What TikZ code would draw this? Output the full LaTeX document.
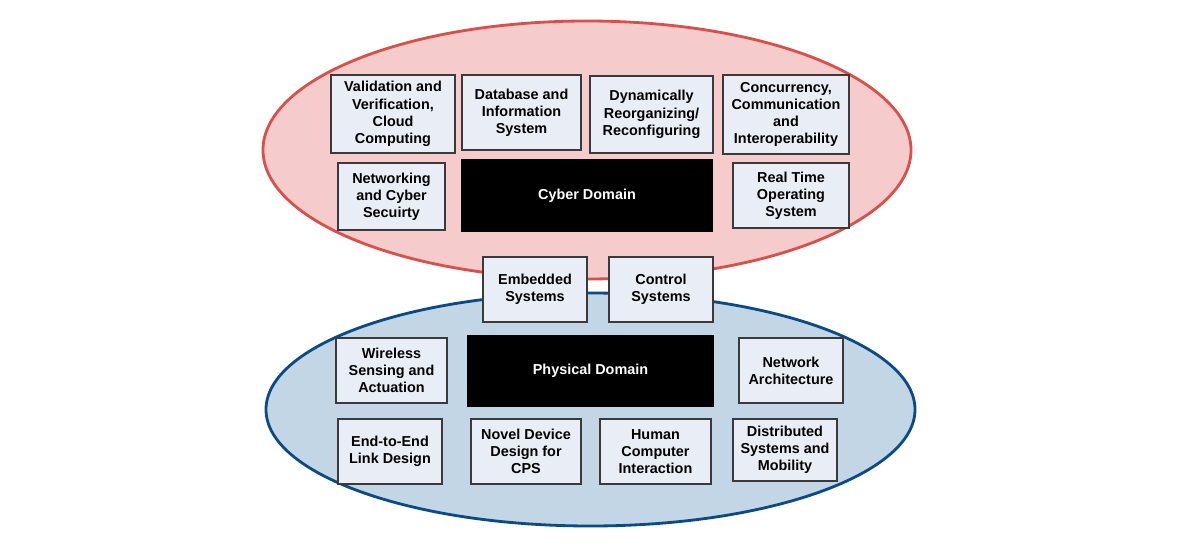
\documentclass[tikz,border=0pt]{standalone}
\usepackage{fontspec}
\setmainfont{Liberation Sans}
\usepackage{tikz}

\definecolor{cyberfill}{HTML}{F5CBCB}
\definecolor{cyberline}{HTML}{D9504A}
\definecolor{physfill}{HTML}{C3D6E5}
\definecolor{physline}{HTML}{0B4A84}
\definecolor{boxfill}{HTML}{E9EEF6}
\definecolor{boxline}{HTML}{3A3A3A}

\tikzset{
  topic/.style={draw=boxline,fill=boxfill,line width=0.7pt,align=center,
    font=\fontsize{8.2}{9.8}\selectfont\bfseries,inner sep=1pt},
  domainbox/.style={fill=black,text=white,align=center,
    font=\fontsize{8.2}{9.8}\selectfont\bfseries}
}

\begin{document}
\begin{tikzpicture}[x=0.02cm,y=-0.02cm]
      \useasboundingbox (0,0) rectangle (1180,544);
      % the two domains
      \draw[cyberline,fill=cyberfill,line width=1.6pt] (587,150) ellipse [x radius=324,y radius=129];
      \draw[physline,fill=physfill,line width=1.6pt] (590.5,409.5) ellipse [x radius=324.5,y radius=116.5];
      % cyber side
      \node[topic,minimum width=2.48cm,minimum height=1.56cm] (valid) at (393,114) {Validation and\\Verification,\\Cloud\\Computing};
      \node[topic,minimum width=2.38cm,minimum height=1.50cm] (dbase) at (521.5,112.5) {Database and\\Information\\System};
      \node[topic,minimum width=2.46cm,minimum height=1.54cm] (dynre) at (651.5,114.5) {Dynamically\\Reorganizing/\\Reconfiguring};
      \node[topic,minimum width=2.52cm,minimum height=1.58cm] (concur) at (786,114.5) {Concurrency,\\Communication\\and\\Interoperability};
      \node[topic,minimum width=2.14cm,minimum height=1.34cm] (netsec) at (391.5,196.5) {Networking\\and Cyber\\Secuirty};
      \node[domainbox,minimum width=5.04cm,minimum height=1.46cm] (cyber) at (587,195.5) {Cyber Domain};
      \node[topic,minimum width=2.32cm,minimum height=1.30cm] (rtos) at (791,195.5) {Real Time\\Operating\\System};
      % shared
      \node[topic,minimum width=2.08cm,minimum height=1.30cm] (embed) at (535,289.5) {Embedded\\Systems};
      \node[topic,minimum width=2.08cm,minimum height=1.30cm] (ctrl) at (661,289.5) {Control\\Systems};
      % physical side
      \node[topic,minimum width=2.22cm,minimum height=1.30cm] (wsn) at (391.5,370.5) {Wireless\\Sensing and\\Actuation};
      \node[domainbox,minimum width=4.94cm,minimum height=1.44cm] (phys) at (590.5,371) {Physical Domain};
      \node[topic,minimum width=2.08cm,minimum height=1.30cm] (netarch) at (791,370.5) {Network\\Architecture};
      \node[topic,minimum width=2.08cm,minimum height=1.30cm] (etoe) at (390,451.5) {End-to-End\\Link Design};
      \node[topic,minimum width=2.20cm,minimum height=1.30cm] (novel) at (526,451.5) {Novel Device\\Design for\\CPS};
      \node[topic,minimum width=2.22cm,minimum height=1.30cm] (hci) at (655.5,451.5) {Human\\Computer\\Interaction};
      \node[topic,minimum width=2.08cm,minimum height=1.24cm] (distrib) at (785,450) {Distributed\\Systems and\\Mobility};
\end{tikzpicture}
\end{document}
